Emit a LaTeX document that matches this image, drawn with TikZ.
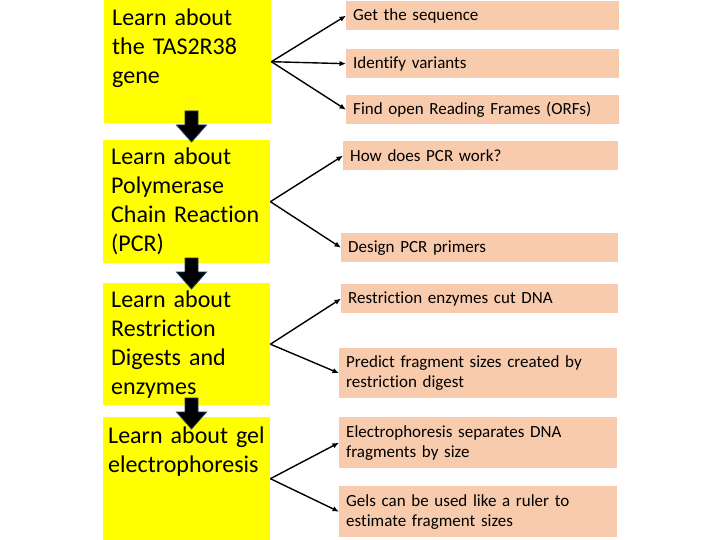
\documentclass[tikz,border=0pt]{standalone}
\usepackage{fontspec}
\setmainfont{Carlito}[Ligatures={NoCommon}, WordSpace=0.85]
\usetikzlibrary{arrows.meta,calc}
\definecolor{topicyellow}{RGB}{255,255,0}
\definecolor{taskpeach}{RGB}{248,203,173}
\definecolor{arrowedge}{RGB}{31,56,100}

\begin{document}
\begin{tikzpicture}[x=1pt,y=-1pt,
  topic/.style={fill=topicyellow, draw=none, anchor=north west, inner sep=0pt,
    minimum width=167pt},
  topictext/.style={anchor=base west, inner sep=0pt, text width=160pt, align=left,
    font=\fontsize{24}{29}\selectfont},
  task/.style={fill=taskpeach, draw=none, anchor=north west, inner xsep=7pt,
    inner ysep=0pt, align=left, font=\fontsize{17}{20}\selectfont},
  link/.style={-{Latex[length=6.5pt,width=5.5pt]}, line width=1.4pt},
  stepdown/.pic={
    \filldraw[fill=black, draw=arrowedge, line width=0.8pt, line join=miter]
      (-6.5,0) -- (6.5,0) -- (6.5,14) -- (15,14) -- (0,31) -- (-15,14) -- (-6.5,14) -- cycle;
  }]

\useasboundingbox (0,0) rectangle (720,540);

% topic boxes
\node[topic, minimum height=123pt] (y1) at (104,0) {};
\node[topic, minimum height=123pt] (y2) at (103,140) {};
\node[topic, minimum height=122pt] (y3) at (103,283) {};
\node[topic, minimum height=123pt] (y4) at (103,417) {};

\node[topictext] (y1t) at (112,26) {Learn about\\the TAS2R38\\gene};
\node[topictext] (y2t) at (111,165) {Learn about\\Polymerase\\Chain Reaction\\(PCR)};
\node[topictext] (y3t) at (111,307) {Learn about\\Restriction\\Digests and\\enzymes};
\node[topictext] (y4t) at (108,443) {Learn about gel\\electrophoresis};

% step arrows between topics
\pic at (191.5,111) {stepdown};
\pic at (191.5,258) {stepdown};
\pic at (191.5,398) {stepdown};

% tasks
\node[task, text width=259pt, minimum height=29pt] (t1a) at (346,1) {Get the sequence};
\node[task, text width=259pt, minimum height=29pt] (t1b) at (346,49) {Identify variants};
\node[task, text width=259pt, minimum height=29pt] (t1c) at (346,95) {Find open Reading Frames (ORFs)};

\node[task, text width=261pt, minimum height=29pt] (t2a) at (343,141) {How does PCR work?};
\node[task, text width=263pt, minimum height=29pt] (t2b) at (341,233) {Design PCR primers};

\node[task, text width=263pt, minimum height=29pt] (t3a) at (341,284) {Restriction enzymes cut DNA};
\node[task, text width=264pt, minimum height=50pt] (t3b) at (339,348) {Predict fragment sizes created by\\restriction digest};

\node[task, text width=264pt, minimum height=51pt] (t4a) at (339,417) {Electrophoresis separates DNA\\fragments by size};
\node[task, text width=264pt, minimum height=51pt] (t4b) at (339,486) {Gels can be used like a ruler to\\estimate fragment sizes};

% connectors
\draw[link] (y1.east) -- (t1a.west);
\draw[link] (y1.east) -- (t1b.west);
\draw[link] (y1.east) -- (t1c.west);
\draw[link] (y2.east) -- (t2a.west);
\draw[link] (y2.east) -- (t2b.west);
\draw[link] (y3.east) -- (t3a.west);
\draw[link] (y3.east) -- (t3b.west);
\draw[link] (y4.east) -- (t4a.west);
\draw[link] (y4.east) -- (t4b.west);

\end{tikzpicture}
\end{document}
